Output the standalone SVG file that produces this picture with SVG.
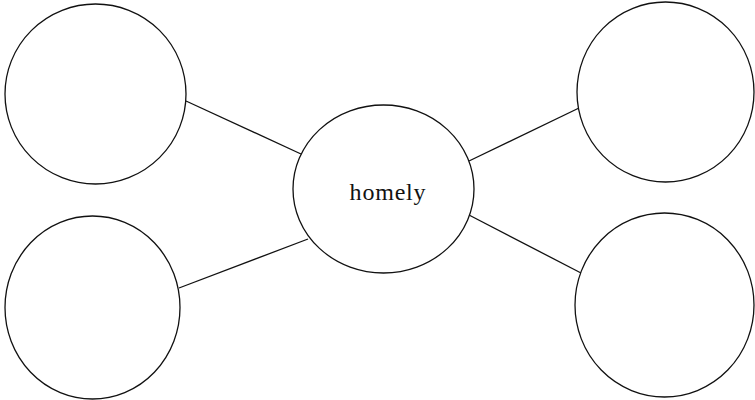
<svg xmlns="http://www.w3.org/2000/svg" width="755" height="400" viewBox="0 0 755 400">
<style>
.n{fill:#fff;stroke:#111;stroke-width:1.3}
.c{stroke:#111;stroke-width:1.3;fill:none}
.t{font-family:"Liberation Serif","Times New Roman",serif;font-size:24px;fill:#111;text-anchor:middle}
</style>
<rect width="755" height="400" fill="#fff"/>
<g id="connectors">
<line class="c" x1="186" y1="101" x2="301" y2="154"/>
<line class="c" x1="179" y1="288" x2="308" y2="239"/>
<line class="c" x1="579" y1="108" x2="469" y2="161"/>
<line class="c" x1="581" y1="273" x2="469" y2="215"/>
</g>
<g id="center">
<ellipse class="n" cx="383.5" cy="189" rx="90.5" ry="84"/>
<text class="t" x="388" y="200" letter-spacing="0.8">homely</text>
</g>
<g id="top-left"><ellipse class="n" cx="95.5" cy="94" rx="90.5" ry="90"/></g>
<g id="bottom-left"><ellipse class="n" cx="92.5" cy="307.5" rx="87.5" ry="91.5"/></g>
<g id="top-right"><ellipse class="n" cx="665.5" cy="92" rx="88.5" ry="90"/></g>
<g id="bottom-right"><ellipse class="n" cx="664.5" cy="305" rx="89.5" ry="92"/></g>
</svg>
